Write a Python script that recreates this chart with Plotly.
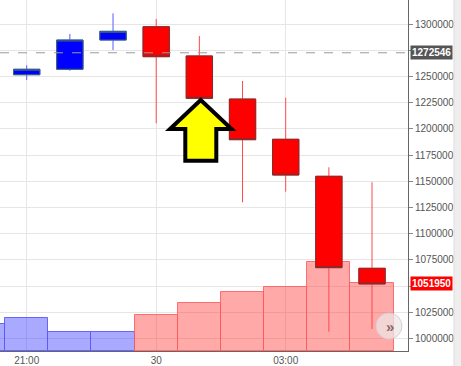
import plotly.graph_objects as go
import pandas as pd

# ---- data ----
times = ["2019-06-29 21:00", "2019-06-29 22:00", "2019-06-29 23:00", "2019-06-30 00:00",
         "2019-06-30 01:00", "2019-06-30 02:00", "2019-06-30 03:00", "2019-06-30 04:00",
         "2019-06-30 05:00"]
opens = [1251600, 1256800, 1284700, 1297400, 1269500, 1228400, 1190000, 1154700, 1066900]
highs = [1260600, 1290500, 1310200, 1304800, 1288600, 1245600, 1229700, 1163300, 1149000]
lows = [1246600, 1255400, 1275200, 1205300, 1215000, 1129900, 1140000, 1006400, 1009000]
closes = [1256800, 1284700, 1293000, 1268800, 1229100, 1189600, 1155900, 1067500, 1051950]

vol_times = ["2019-06-29 20:00"] + times
vol_values = [267, 333, 193, 187, 360, 480, 590, 640, 887, 680]
vol_up = [True, True, True, True, False, False, False, False, False, False]

ref_price = 1272546
last_price = 1051950

xtick_vals = ["2019-06-29 21:00", "2019-06-30 00:00", "2019-06-30 03:00"]
xtick_text = ["21:00", "30", "03:00"]

ytick_vals = [1000000, 1025000, 1075000, 1100000, 1125000, 1150000, 1175000,
              1200000, 1225000, 1250000, 1300000]
ytick_hidden = [1050000, 1275000]  # covered by the price labels

# ---- layout geometry (pixels) ----
W, H = 461, 366
ML, MR, MT, MB = 0, 53, 0, 15
PW, PH = W - ML - MR, H - MT - MB


def px(x):
    return (x - ML) / PW


def py(y):
    return 1 - (y - MT) / PH


fig = go.Figure()

# volume bars (behind)
fig.add_trace(go.Bar(
    x=vol_times, y=vol_values, width=3600000,
    marker=dict(
        color=["rgba(40,40,255,0.40)" if u else "rgba(255,40,40,0.40)" for u in vol_up],
        line=dict(color=["rgba(90,90,255,0.9)" if u else "rgba(255,90,90,0.85)" for u in vol_up], width=1)),
    yaxis="y", hoverinfo="skip", showlegend=False))

# wicks
fig.add_trace(go.Candlestick(
    x=times, open=opens, high=highs, low=lows, close=closes, yaxis="y2",
    increasing=dict(line=dict(color="#5a5aff", width=1), fillcolor="#0000ff"),
    decreasing=dict(line=dict(color="#ff4a4a", width=1), fillcolor="#ff0000"),
    whiskerwidth=0, showlegend=False, hoverinfo="skip"))

# bodies with dark border
body_hi = [max(o, c) for o, c in zip(opens, closes)]
body_lo = [min(o, c) for o, c in zip(opens, closes)]
fig.add_trace(go.Candlestick(
    x=times, open=opens, high=body_hi, low=body_lo, close=closes, yaxis="y2",
    increasing=dict(line=dict(color="#3d6b6b", width=1), fillcolor="#0000ff"),
    decreasing=dict(line=dict(color="#7a3030", width=1), fillcolor="#ff0000"),
    whiskerwidth=0, showlegend=False, hoverinfo="skip"))

# arrow annotation
pts = [(200.7, 100), (231.5, 129), (216.3, 129), (216.3, 160.7), (185.3, 160.7), (185.3, 129), (170, 129)]
path = "M " + " L ".join(f"{px(a):.5f},{py(b):.5f}" for a, b in pts) + " Z"

shapes = [
    dict(type="line", xref="paper", yref="y2", x0=0, x1=1, y0=ref_price, y1=ref_price,
         line=dict(color="#9a9a9a", width=1, dash="dash")),
    dict(type="path", xref="paper", yref="paper", path=path,
         fillcolor="#ffff00", line=dict(color="#000000", width=4)),
    dict(type="rect", xref="paper", yref="paper", x0=px(454), x1=px(462), y0=py(367), y1=py(-1),
         fillcolor="#eeeeee", line=dict(color="#dddddd", width=1)),
    dict(type="circle", xref="paper", yref="paper", x0=px(376), x1=px(402), y0=py(339), y1=py(313),
         fillcolor="rgba(238,230,230,0.75)", line=dict(color="rgba(215,205,205,0.9)", width=1)),
]

annotations = [
    dict(xref="paper", yref="y2", x=px(410), y=ref_price, xanchor="left", yanchor="middle",
         text="<b>1272546</b>", showarrow=False, bgcolor="#555555", borderpad=1,
         font=dict(color="white", size=10, family="Liberation Sans, Arial")),
    dict(xref="paper", yref="y2", x=px(410), y=last_price, xanchor="left", yanchor="middle",
         text="<b>1051950</b>", showarrow=False, bgcolor="#ff0000", borderpad=1,
         font=dict(color="white", size=10, family="Liberation Sans, Arial")),
    dict(xref="paper", yref="paper", x=px(389.5), y=py(326), xanchor="center", yanchor="middle",
         text="<b>»</b>", showarrow=False, font=dict(color="#8a6a6a", size=15, family="Liberation Sans, Arial")),
]

fig.update_layout(
    width=W, height=H,
    margin=dict(l=ML, r=MR, t=MT, b=MB, pad=0),
    paper_bgcolor="white", plot_bgcolor="white",
    boxgap=0.39, boxgroupgap=0, bargap=0,
    showlegend=False,
    font=dict(family="Liberation Sans, Arial", size=10, color="#555555"),
    xaxis=dict(
        type="date", range=["2019-06-29 20:22:54", "2019-06-30 05:50:00"],
        tickvals=xtick_vals, ticktext=xtick_text,
        showgrid=True, gridcolor="#e6e6e6", gridwidth=1,
        showline=True, linecolor="#666666", linewidth=1,
        ticks="", rangeslider=dict(visible=False), fixedrange=True,
        tickfont=dict(size=10, color="#555555"),
    ),
    yaxis=dict(range=[0, 3510], visible=False, showgrid=False, fixedrange=True),
    yaxis2=dict(
        overlaying="y", side="right", range=[987980, 1322900],
        tickvals=ytick_vals, tickformat="d",
        showgrid=True, gridcolor="#e6e6e6", gridwidth=1,
        showline=True, linecolor="#666666", linewidth=1,
        ticks="outside", ticklen=4, tickcolor="#888888",
        tickfont=dict(size=10, color="#555555"), fixedrange=True,
        minor=dict(tickvals=ytick_hidden, showgrid=True, gridcolor="#e6e6e6",
                   ticks="outside", ticklen=4, tickcolor="#888888"),
    ),
    shapes=shapes,
    annotations=annotations,
)

fig.write_html("out.html")
